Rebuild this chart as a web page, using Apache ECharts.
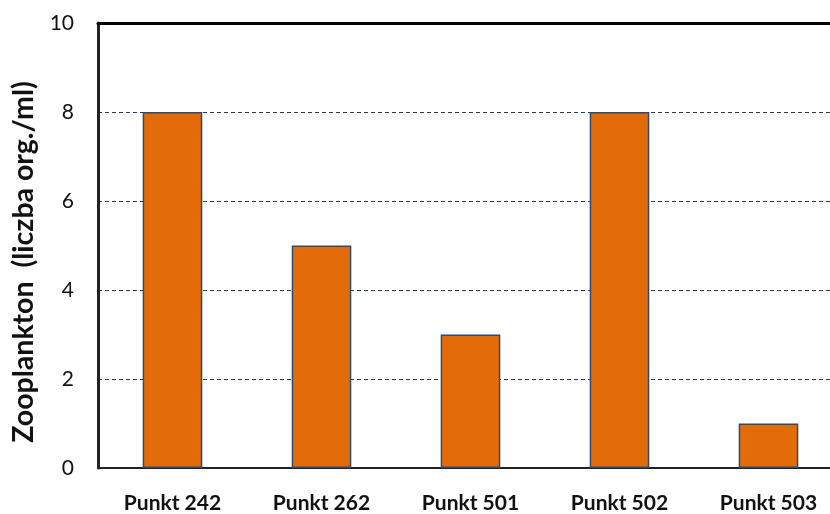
<!DOCTYPE html>
<html><head><meta charset="utf-8">
<script src="https://cdn.jsdelivr.net/npm/echarts@6/dist/echarts.min.js"></script>
<style>html,body{margin:0;padding:0;background:#fff;overflow:hidden;width:830px;height:514px}#c{width:843px;height:514px}</style>
</head><body><div id="c"></div>
<script>
const categories = ["Punkt 242", "Punkt 262", "Punkt 501", "Punkt 502", "Punkt 503"];
const values = [8, 5, 3, 8, 1];
const yTicks = [0, 2, 4, 6, 8, 10];
const yTitle = "Zooplankton  (liczba org./ml)";

const chart = echarts.init(document.getElementById('c'));
chart.setOption({
  animation: false,
  grid: { left: 98, right: 0, top: 23, bottom: 45 },
  xAxis: [{
    type: 'category', data: categories, position: 'bottom',
    axisLine: { lineStyle: { color: '#222', width: 2 } },
    axisTick: { show: false },
    axisLabel: { color: '#111', fontFamily: 'Lato', fontWeight: 'bold', fontSize: 21, margin: 25 }
  }, {
    type: 'category', data: categories, position: 'top',
    axisLine: { lineStyle: { color: '#000', width: 3 } },
    axisTick: { show: false }, axisLabel: { show: false }
  }],
  yAxis: {
    type: 'value', min: yTicks[0], max: yTicks[yTicks.length - 1], interval: 2,
    axisLine: { show: true, lineStyle: { color: '#222', width: 3 } },
    axisTick: { show: false },
    axisLabel: { color: '#111', fontFamily: 'Lato', fontSize: 21, margin: 24 },
    splitLine: { show: true, lineStyle: { color: '#1F3864', type: [4, 3], width: 1 } }
  },
  graphic: [{
    type: 'text', x: 24, y: 262, rotation: Math.PI / 2,
    style: { text: yTitle, fill: '#111', font: 'bold 28.5px Lato', align: 'center', verticalAlign: 'middle' }
  }],
  series: [{
    type: 'bar', data: values, barWidth: '40%', xAxisIndex: 0,
    itemStyle: { color: '#E36C0A', borderColor: '#2E4A6E', borderWidth: 1.5 }
  }]
});
</script></body></html>
